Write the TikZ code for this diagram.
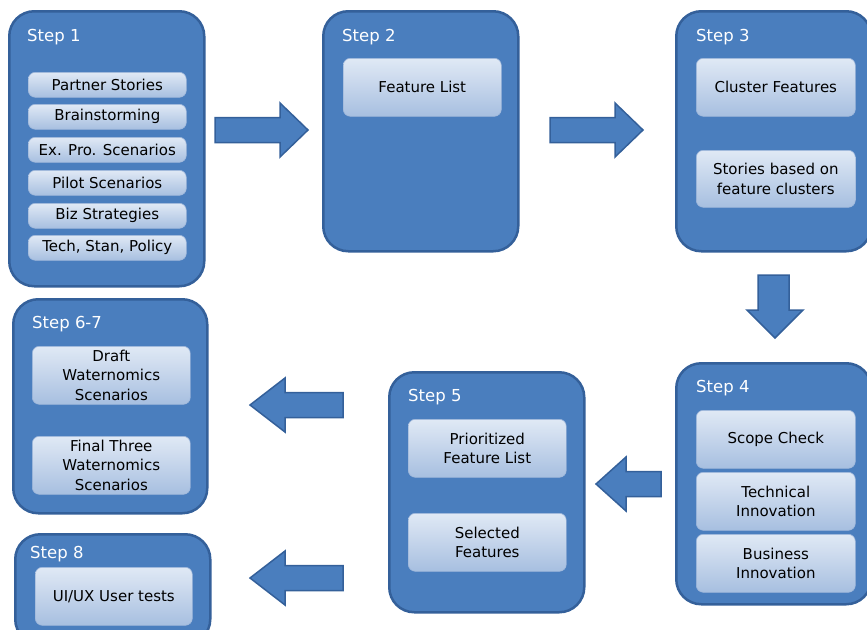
\documentclass[tikz,border=0pt]{standalone}
\usepackage{fontspec}
\setmainfont{DejaVu Sans}
\definecolor{boxc}{HTML}{4A7EBE}
\definecolor{bordc}{HTML}{34609A}
\definecolor{intop}{HTML}{E0E9F5}
\definecolor{inbot}{HTML}{A7BFE0}
\definecolor{innerb}{HTML}{9DB6DA}
\tikzset{
  outer/.style={draw=bordc, line width=2.5pt, fill=boxc, rounded corners=25pt, anchor=north west, inner sep=0pt},
  inner/.style={draw=innerb, line width=0.6pt, top color=intop, bottom color=inbot, rounded corners=7pt, anchor=north west, inner sep=0pt, align=center, text=black, font=\fontsize{15}{19.5}\selectfont},
  title/.style={anchor=west, inner sep=0pt, text=white, font=\fontsize{16.5}{18}\selectfont},
  barrow/.style={draw=bordc, line width=1.5pt, fill=boxc, line join=miter}
}
\newcommand\arrowH[4]{% tail x, tip x, head base x, center y
  \draw[barrow] (#1,{#4-12.5}) -- (#3,{#4-12.5}) -- (#3,{#4-27}) -- (#2,#4) -- (#3,{#4+27}) -- (#3,{#4+12.5}) -- (#1,{#4+12.5}) -- cycle;}
\begin{document}
\begin{tikzpicture}[x=1pt,y=-1pt]
\useasboundingbox (0,0) rectangle (867,629);
\clip (0,0) rectangle (867,629);
% outer boxes
\node[outer, minimum width=195pt, minimum height=275pt] (s1) at (8,10) {};
\node[outer, minimum width=195pt, minimum height=240pt] (s2) at (322,10) {};
\node[outer, minimum width=195pt, minimum height=240pt] (s3) at (675,10) {};
\node[outer, minimum width=195pt, minimum height=241pt] (s4) at (675,362) {};
\node[outer, minimum width=195pt, minimum height=240pt] (s5) at (388,371) {};
\node[outer, minimum width=194pt, minimum height=214pt] (s67) at (12,298) {};
\node[outer, minimum width=195pt, minimum height=110pt] (s8) at (14,533) {};
% titles
\node[title] (t1) at (27,37) {Step 1};
\node[title] (t2) at (342,37) {Step 2};
\node[title] (t3) at (696,37) {Step 3};
\node[title] (t4) at (696,388) {Step 4};
\node[title] (t5) at (408,397) {Step 5};
\node[title] (t67) at (32,324) {Step 6-7};
\node[title] (t8) at (30,554) {Step 8};
% step 1 items
\node[inner, minimum width=158pt, minimum height=25pt] (a1) at (28,72) {Partner Stories};
\node[inner, minimum width=158pt, minimum height=25pt] (a2) at (28,104) {Brainstorming};
\node[inner, minimum width=158pt, minimum height=25pt] (a3) at (28,137) {Ex. Pro. Scenarios};
\node[inner, minimum width=158pt, minimum height=25pt] (a4) at (28,170) {Pilot Scenarios};
\node[inner, minimum width=158pt, minimum height=25pt] (a5) at (28,203) {Biz Strategies};
\node[inner, minimum width=158pt, minimum height=25pt] (a6) at (28,235) {Tech, Stan, Policy};
% step 2
\node[inner, minimum width=158pt, minimum height=58pt] (b1) at (343,58) {Feature List};
% step 3
\node[inner, minimum width=159pt, minimum height=58pt] (c1) at (696,58) {Cluster Features};
\node[inner, minimum width=159pt, minimum height=57pt] (c2) at (696,150) {Stories based on\\feature clusters};
% step 4
\node[inner, minimum width=159pt, minimum height=58pt] (d1) at (696,410) {Scope Check};
\node[inner, minimum width=159pt, minimum height=58pt] (d2) at (696,472) {Technical\\Innovation};
\node[inner, minimum width=159pt, minimum height=58pt] (d3) at (696,534) {Business\\Innovation};
% step 5
\node[inner, minimum width=158pt, minimum height=58pt] (e1) at (408,419) {Prioritized\\Feature List};
\node[inner, minimum width=158pt, minimum height=58pt] (e2) at (408,513) {Selected\\Features};
% step 6-7
\node[inner, minimum width=158pt, minimum height=58pt] (f1) at (32,346) {Draft\\Waternomics\\Scenarios};
\node[inner, minimum width=158pt, minimum height=58pt] (f2) at (32,436) {Final Three\\Waternomics\\Scenarios};
% step 8
\node[inner, minimum width=157pt, minimum height=58pt] (g1) at (35,567) {UI/UX User tests};
% block arrows
\arrowH{215}{308}{280}{130}
\arrowH{550}{643}{615}{130}
\arrowH{661}{596}{626}{484}
\arrowH{343}{250}{285}{405}
\arrowH{343}{250}{285}{578}
\draw[barrow] (758,275) -- (789,275) -- (789,310) -- (803,310) -- (775,338) -- (747,310) -- (758,310) -- cycle;
\end{tikzpicture}
\end{document}
